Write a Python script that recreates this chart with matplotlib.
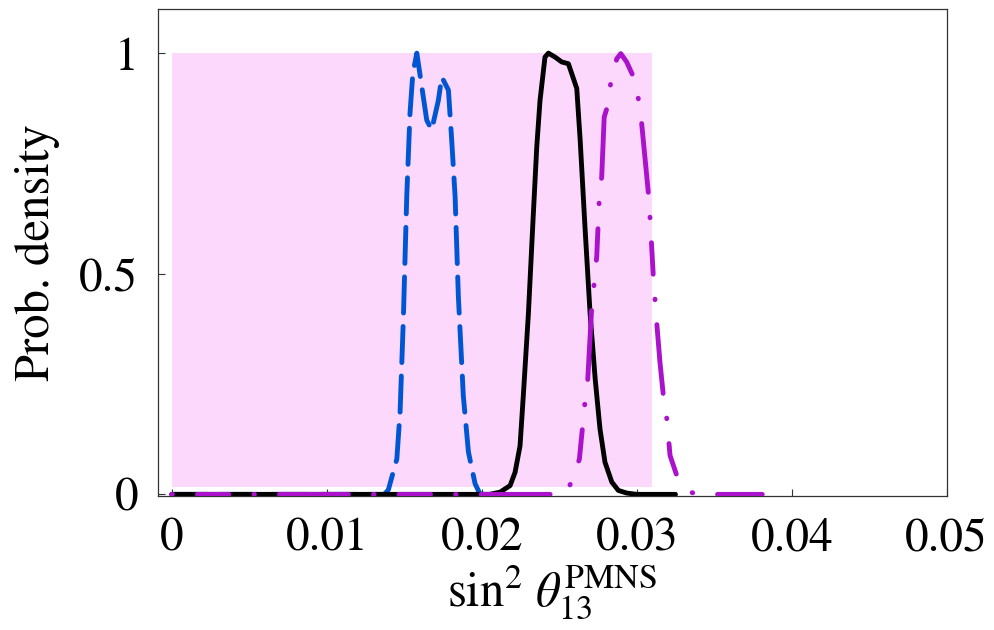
import matplotlib
matplotlib.use("Agg")
import matplotlib.pyplot as plt

plt.rcParams["font.family"] = ["STIXGeneral", "DejaVu Serif"]
plt.rcParams["mathtext.fontset"] = "stix"
plt.rcParams["lines.scale_dashes"] = False

# Posterior densities of sin^2(theta_13)
blue_x = [0.0, 0.0137, 0.01397, 0.01452, 0.01473, 0.01494, 0.01516, 0.01537,
          0.01555, 0.01581, 0.01645, 0.01677, 0.01720, 0.01742, 0.01785,
          0.01806, 0.01828, 0.01849, 0.01881, 0.01914, 0.01957, 0.01990, 0.0205]
blue_y = [0.0, 0.0, 0.01, 0.08, 0.187, 0.397, 0.675, 0.864,
          0.953, 1.0, 0.848, 0.826, 0.893, 0.946, 0.916,
          0.803, 0.675, 0.449, 0.223, 0.096, 0.024, 0.0, 0.0]

black_x = [0.0, 0.0205, 0.02118, 0.02183, 0.02215, 0.02247, 0.02268, 0.02301,
           0.02333, 0.02355, 0.02376, 0.02408, 0.02430, 0.02473, 0.02516,
           0.02559, 0.02613, 0.02635, 0.02667, 0.02699, 0.02732, 0.02763,
           0.02795, 0.02839, 0.02881, 0.02935, 0.0300, 0.0325]
black_y = [0.0, 0.0, 0.005, 0.02, 0.05, 0.11, 0.223, 0.41,
           0.637, 0.788, 0.893, 0.991, 1.0, 0.991, 0.98,
           0.976, 0.92, 0.803, 0.6, 0.41, 0.261, 0.148,
           0.073, 0.028, 0.009, 0.003, 0.0, 0.0]

purple_x = [0.0, 0.0253, 0.02581, 0.02630, 0.02666, 0.02684, 0.02710, 0.02726,
            0.02742, 0.02757, 0.02774, 0.02790, 0.02810, 0.02832, 0.02871,
            0.02897, 0.02935, 0.02974, 0.03010, 0.03032, 0.03075, 0.03086,
            0.03107, 0.03129, 0.03150, 0.03172, 0.03194, 0.03215, 0.03258,
            0.03345, 0.0340, 0.0381]
purple_y = [0.0, 0.0, 0.028, 0.08, 0.209, 0.261, 0.427, 0.48,
            0.54, 0.66, 0.72, 0.855, 0.878, 0.932, 0.987,
            0.999, 0.98, 0.95, 0.897, 0.84, 0.683, 0.626,
            0.494, 0.389, 0.299, 0.223, 0.171, 0.088, 0.043,
            0.005, 0.0, 0.0]

# Shaded allowed band
band_x = (0.0, 0.0310)
band_y = (0.017, 1.0)

x_ticks = [0, 0.01, 0.02, 0.03, 0.04, 0.05]
x_ticklabels = ["0", "0.01", "0.02", "0.03", "0.04", "0.05"]
y_ticks = [0, 0.5, 1]
y_ticklabels = ["0", "0.5", "1"]

fig = plt.figure(figsize=(9.94, 6.30), dpi=100)
ax = fig.add_axes([0.1585, 0.2132, 0.7939, 0.7725])

ax.fill_between(band_x, band_y[0], band_y[1], color="#fdd8fd", lw=0, zorder=1)

ax.plot(blue_x, blue_y, color="#0055d2", lw=3.5, dashes=(26, 9.7),
        dash_capstyle="round", solid_joinstyle="round", zorder=2)
ax.plot(black_x, black_y, color="black", lw=3.5,
        solid_capstyle="round", solid_joinstyle="round", zorder=3)
ax.plot(purple_x, purple_y, color="#aa12cc", lw=3.5,
        dashes=(0.4, 18, 22.7, 18, 0.4, 18, 49.7, 18),
        dash_capstyle="round", solid_joinstyle="round", zorder=4)

ax.set_xlim(-0.00092, 0.05)
ax.set_ylim(-0.003, 1.1)

ax.set_xticks(x_ticks)
ax.set_xticklabels(x_ticklabels)
ax.set_yticks(y_ticks)
ax.set_yticklabels(y_ticklabels)
ax.tick_params(axis="both", direction="in", length=5, width=0.8,
               labelsize=34, color="#333333")
ax.tick_params(axis="x", pad=16)
ax.tick_params(axis="y", pad=14)
ax.tick_params(top=False, right=False)

for s in ax.spines.values():
    s.set_linewidth(0.9)
    s.set_color("#333333")

ax.set_ylabel("Prob. density", fontsize=35, labelpad=14)
ax.set_xlabel(r"$\mathrm{sin}^2\ \theta_{13}^{\mathrm{PMNS}}$", fontsize=35,
              labelpad=2)

fig.savefig("out.png", dpi=100)
